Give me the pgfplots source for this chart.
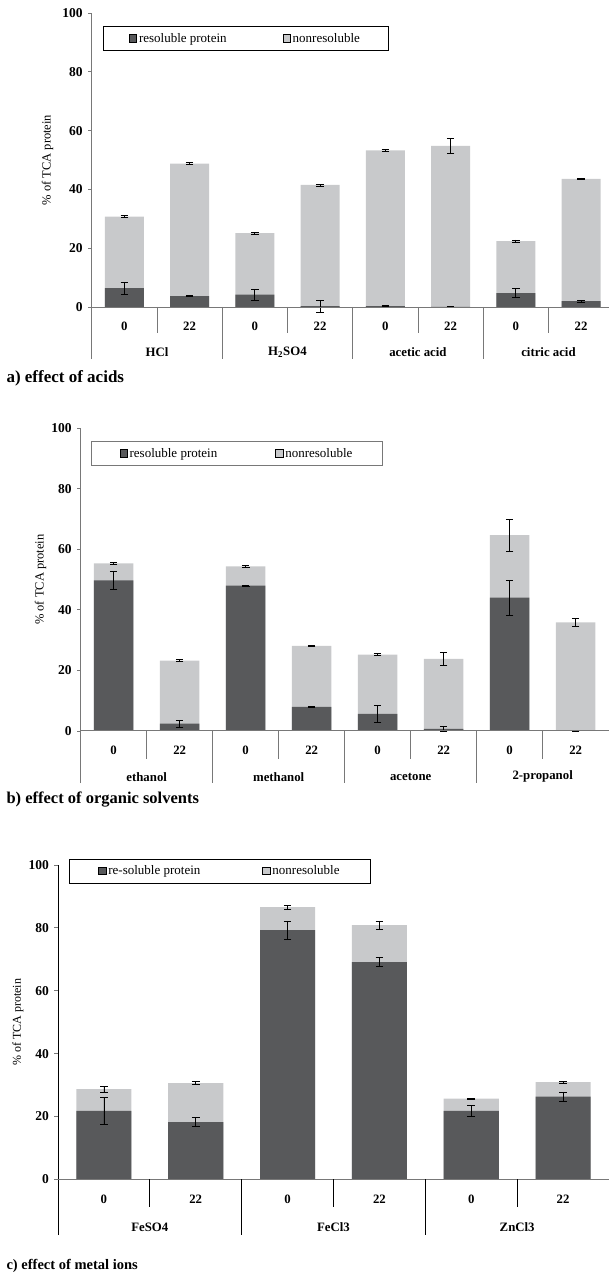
\documentclass[border=0pt]{standalone}
\usepackage{pgfplots}
\pgfplotsset{compat=1.18}
\usepackage{fontspec}
\setmainfont{Liberation Serif}
\definecolor{darkbar}{RGB}{88,89,91}
\definecolor{lightbar}{RGB}{200,201,203}
\definecolor{axgray}{RGB}{120,120,120}
\tikzset{lab/.style={font=\bfseries\fontsize{12.8}{14}\selectfont}}
\pgfplotsset{
 panel/.style={
  scale only axis, ybar, ymax=100, ytick={0,20,...,100},
  axis x line=none, axis y line=left,
  axis line style={-, axgray, line width=0.9pt},
  xtick=\empty, tick align=outside, major tick length=3.5pt,
  ytick style={axgray, line width=0.8pt},
  tick label style={font=\bfseries\fontsize{13.5}{15}\selectfont},
  yticklabel style={xshift=-2pt},
  /pgf/number format/assume math mode=true,
  ylabel={\% of TCA protein},
  ylabel style={font=\fontsize{12.5}{14}\selectfont, anchor=center},
  clip=false,
  bar width=0.6,
  error bars/error bar style={black, line width=0.7pt},
  error bars/error mark options={black, rotate=90, mark size=3.8pt, line width=0.7pt},
  legend image code/.code={\fill[##1] (0pt,-3.6pt) rectangle (7.3pt,3.6pt);},
  legend style={draw=black, line width=0.7pt, font=\fontsize{13}{14}\selectfont,
    anchor=north west, legend columns=2, inner ysep=4.5pt},
 },
 lightplot/.style={fill=lightbar, draw=none, bar shift=0pt, forget plot,
   error bars/.cd, y dir=both, y explicit},
 darkplot/.style={fill=darkbar, draw=none, bar shift=0pt, forget plot,
   error bars/.cd, y dir=both, y explicit},
}
\begin{document}
\begin{tikzpicture}
\useasboundingbox (0pt,0pt) rectangle (608pt,-1279pt);
% ---------------- panel a ----------------
\begin{axis}[panel, at={(91.7pt,-359pt)}, anchor=south west,
  width=522pt, height=346pt, xmin=-0.5, xmax=7.5, ymin=-17.7,
  ylabel style={at={(axis description cs:-0.0846,0.575)}},
  legend style={at={(axis description cs:0.021,0.962)}, inner xsep=26pt,
    /tikz/every even column/.append style={column sep=54pt}}]
\addlegendimage{fill=darkbar}\addlegendentry{resoluble protein}
\addlegendimage{fill=lightbar}\addlegendentry{nonresoluble}
\addplot[lightplot] coordinates {
 (0,30.7) +- (0,0.3) (1,48.8) +- (0,0.4) (2,25.1) +- (0,0.4) (3,41.5) +- (0,0.3)
 (4,53.3) +- (0,0.3) (5,54.8) +- (0,2.6) (6,22.4) +- (0,0.4) (7,43.6) +- (0,0.3)};
\addplot[darkplot] coordinates {
 (0,6.4) +- (0,2.0) (1,3.7) +- (0,0.2) (2,4.2) +- (0,1.8) (3,0.3) +- (0,2.0)
 (4,0.3) +- (0,0.2) (5,0.0) +- (0,0.2) (6,4.7) +- (0,1.5) (7,2.0) +- (0,0.3)};
\draw[axgray, line width=0.9pt] (axis cs:-0.5,0) -- (axis cs:7.5,0);
\draw[axgray, line width=0.9pt] (axis cs:0.5,0) -- ++(0pt,-26pt);
\draw[axgray, line width=0.9pt] (axis cs:2.5,0) -- ++(0pt,-26pt);
\draw[axgray, line width=0.9pt] (axis cs:4.5,0) -- ++(0pt,-26pt);
\draw[axgray, line width=0.9pt] (axis cs:6.5,0) -- ++(0pt,-26pt);
\draw[axgray, line width=0.9pt] (axis cs:1.5,0) -- ++(0pt,-52pt);
\draw[axgray, line width=0.9pt] (axis cs:3.5,0) -- ++(0pt,-52pt);
\draw[axgray, line width=0.9pt] (axis cs:5.5,0) -- ++(0pt,-52pt);
\node[lab, yshift=-19pt] at (axis cs:0,0) {0};
\node[lab, yshift=-19pt] at (axis cs:1,0) {22};
\node[lab, yshift=-19pt] at (axis cs:2,0) {0};
\node[lab, yshift=-19pt] at (axis cs:3,0) {22};
\node[lab, yshift=-19pt] at (axis cs:4,0) {0};
\node[lab, yshift=-19pt] at (axis cs:5,0) {22};
\node[lab, yshift=-19pt] at (axis cs:6,0) {0};
\node[lab, yshift=-19pt] at (axis cs:7,0) {22};
\node[lab, yshift=-45pt] at (axis cs:0.5,0) {HCl};
\node[lab, yshift=-45pt] at (axis cs:2.5,0) {H\textsubscript{2}SO4};
\node[lab, yshift=-45pt] at (axis cs:4.5,0) {acetic acid};
\node[lab, yshift=-45pt] at (axis cs:6.5,0) {citric acid};
\end{axis}
\node[anchor=west, font=\bfseries\fontsize{17}{19}\selectfont] at (3pt,-378pt) {a) effect of acids};
% ---------------- panel b ----------------
\begin{axis}[panel, at={(80.7pt,-783pt)}, anchor=south west,
  width=528pt, height=355pt, xmin=-0.5, xmax=7.5, ymin=-17.2,
  ylabel style={at={(axis description cs:-0.0758,0.573)}},
  legend style={at={(axis description cs:0.02,0.963)}, draw=axgray, inner xsep=28pt,
    /tikz/every even column/.append style={column sep=56pt}}]
\addlegendimage{fill=darkbar}\addlegendentry{resoluble protein}
\addlegendimage{fill=lightbar}\addlegendentry{nonresoluble}
\addplot[lightplot] coordinates {
 (0,55.3) +- (0,0.2) (1,23.2) +- (0,0.3) (2,54.3) +- (0,0.4) (3,28.1) +- (0,0.2)
 (4,25.2) +- (0,0.4) (5,23.8) +- (0,2.0) (6,64.6) +- (0,5.2) (7,35.8) +- (0,1.2)};
\addplot[darkplot] coordinates {
 (0,49.7) +- (0,3.0) (1,2.4) +- (0,1.1) (2,48.0) +- (0,0.2) (3,7.9) +- (0,0.2)
 (4,5.6) +- (0,2.7) (5,0.7) +- (0,0.7) (6,44.0) +- (0,5.8) (7,0.0) +- (0,0.2)};
\draw[axgray, line width=0.9pt] (axis cs:-0.5,0) -- (axis cs:7.5,0);
\draw[axgray, line width=0.9pt] (axis cs:0.5,0) -- ++(0pt,-28pt);
\draw[axgray, line width=0.9pt] (axis cs:2.5,0) -- ++(0pt,-28pt);
\draw[axgray, line width=0.9pt] (axis cs:4.5,0) -- ++(0pt,-28pt);
\draw[axgray, line width=0.9pt] (axis cs:6.5,0) -- ++(0pt,-28pt);
\draw[axgray, line width=0.9pt] (axis cs:1.5,0) -- ++(0pt,-52pt);
\draw[axgray, line width=0.9pt] (axis cs:3.5,0) -- ++(0pt,-52pt);
\draw[axgray, line width=0.9pt] (axis cs:5.5,0) -- ++(0pt,-52pt);
\node[lab, yshift=-19pt] at (axis cs:0,0) {0};
\node[lab, yshift=-19pt] at (axis cs:1,0) {22};
\node[lab, yshift=-19pt] at (axis cs:2,0) {0};
\node[lab, yshift=-19pt] at (axis cs:3,0) {22};
\node[lab, yshift=-19pt] at (axis cs:4,0) {0};
\node[lab, yshift=-19pt] at (axis cs:5,0) {22};
\node[lab, yshift=-19pt] at (axis cs:6,0) {0};
\node[lab, yshift=-19pt] at (axis cs:7,0) {22};
\node[lab, yshift=-46pt] at (axis cs:0.5,0) {ethanol};
\node[lab, yshift=-46pt] at (axis cs:2.5,0) {methanol};
\node[lab, yshift=-46pt] at (axis cs:4.5,0) {acetone};
\node[lab, yshift=-46pt] at (axis cs:6.5,0) {2-propanol};
\end{axis}
\node[anchor=west, font=\bfseries\fontsize{16.5}{19}\selectfont] at (3pt,-800pt) {b) effect of organic solvents};
% ---------------- panel c ----------------
\begin{axis}[panel, at={(58pt,-1235pt)}, anchor=south west,
  width=551pt, height=370pt, xmin=-0.5, xmax=5.5, ymin=-17.7,
  axis line style={-, black, line width=0.9pt},
  ylabel style={at={(axis description cs:-0.0726,0.575)}, font=\fontsize{12}{14}\selectfont},
  legend style={at={(axis description cs:0.02,1.016)}, inner xsep=29pt,
    /tikz/every even column/.append style={column sep=60pt}}]
\addlegendimage{fill=darkbar}\addlegendentry{re-soluble protein}
\addlegendimage{fill=lightbar}\addlegendentry{nonresoluble}
\addplot[lightplot] coordinates {
 (0,28.7) +- (0,0.9) (1,30.6) +- (0,0.5) (2,86.6) +- (0,0.6)
 (3,80.9) +- (0,1.3) (4,25.7) +- (0,0.1) (5,30.9) +- (0,0.2)};
\addplot[darkplot] coordinates {
 (0,21.8) +- (0,4.2) (1,18.2) +- (0,1.4) (2,79.3) +- (0,2.9)
 (3,69.1) +- (0,1.4) (4,21.8) +- (0,1.6) (5,26.3) +- (0,1.5)};
\draw[axgray, line width=0.9pt] (axis cs:-0.5,0) -- (axis cs:5.5,0);
\draw[black, line width=0.9pt] (axis cs:0.5,0) -- ++(0pt,-28pt);
\draw[black, line width=0.9pt] (axis cs:2.5,0) -- ++(0pt,-28pt);
\draw[black, line width=0.9pt] (axis cs:4.5,0) -- ++(0pt,-28pt);
\draw[black, line width=0.9pt] (axis cs:1.5,0) -- ++(0pt,-56pt);
\draw[black, line width=0.9pt] (axis cs:3.5,0) -- ++(0pt,-56pt);
\node[lab, yshift=-20pt] at (axis cs:0,0) {0};
\node[lab, yshift=-20pt] at (axis cs:1,0) {22};
\node[lab, yshift=-20pt] at (axis cs:2,0) {0};
\node[lab, yshift=-20pt] at (axis cs:3,0) {22};
\node[lab, yshift=-20pt] at (axis cs:4,0) {0};
\node[lab, yshift=-20pt] at (axis cs:5,0) {22};
\node[lab, yshift=-48pt] at (axis cs:0.5,0) {FeSO4};
\node[lab, yshift=-48pt] at (axis cs:2.5,0) {FeCl3};
\node[lab, yshift=-48pt] at (axis cs:4.5,0) {ZnCl3};
\end{axis}
\node[anchor=west, font=\bfseries\fontsize{14.5}{17}\selectfont] at (3pt,-1266pt) {c) effect of metal ions};
\end{tikzpicture}
\end{document}
